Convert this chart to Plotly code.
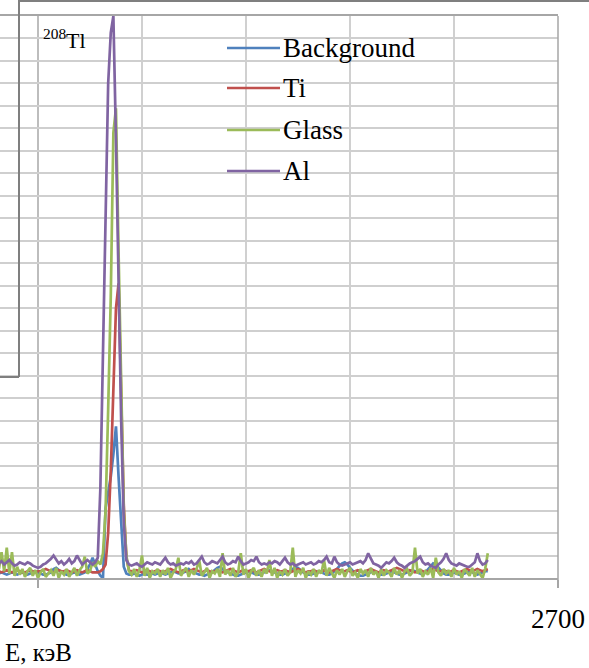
import plotly.graph_objects as go

# Energy channels (keV), 0.5 keV step
E_START = 2592.5
E_STEP = 0.5
N = 189
energy = [E_START + E_STEP * i for i in range(N)]

background = [
    4, 5, 4, 3, 4, 5, 4, 3, 4, 5,
    4, 3, 4, 5, 6, 5, 4, 3, 3, 4,
    5, 8, 9, 7, 5, 4, 3, 3, 4, 5,
    4, 3, 4, 5, 8, 12, 18, 12, 6, 2,
    0, 62, 75, 90, 110, 135, 90, 48, 10, 4,
    3, 3, 4, 3, 2, 3, 4, 3, 3, 4,
    3, 4, 5, 4, 3, 4, 5, 6, 5, 4,
    4, 5, 6, 8, 6, 5, 4, 3, 3, 2,
    3, 4, 5, 7, 9, 10, 8, 6, 5, 4,
    3, 2, 2, 3, 4, 5, 6, 5, 4, 3,
    3, 4, 5, 6, 7, 6, 5, 4, 3, 3,
    4, 5, 6, 8, 10, 9, 7, 5, 4, 3,
    3, 4, 5, 6, 5, 4, 3, 3, 4, 6,
    8, 11, 13, 14, 12, 9, 6, 4, 3, 2,
    2, 3, 4, 5, 6, 5, 4, 3, 3, 4,
    5, 6, 5, 4, 3, 3, 4, 5, 6, 7,
    6, 5, 4, 3, 5, 8, 11, 13, 12, 9,
    6, 4, 3, 3, 4, 5, 4, 3, 3, 4,
    5, 6, 5, 4, 3, 4, 5, 6, 6,
]

ti = [
    6, 5, 6, 7, 6, 5, 6, 7, 6, 5,
    5, 6, 7, 6, 5, 6, 6, 7, 8, 7,
    6, 5, 6, 7, 6, 6, 7, 6, 5, 6,
    7, 6, 5, 6, 7, 6, 5, 5, 5, 6,
    8, 12, 40, 95, 165, 240, 262, 150, 65, 18,
    7, 6, 6, 7, 6, 5, 6, 7, 6, 5,
    6, 7, 6, 5, 6, 7, 8, 7, 6, 5,
    6, 7, 6, 6, 7, 8, 7, 6, 5, 6,
    7, 6, 5, 6, 7, 6, 5, 6, 7, 8,
    7, 6, 5, 6, 7, 6, 6, 7, 6, 5,
    6, 7, 8, 7, 6, 5, 6, 7, 6, 6,
    7, 6, 5, 6, 7, 8, 7, 6, 5, 6,
    6, 7, 6, 5, 6, 7, 6, 5, 6, 7,
    8, 7, 6, 6, 7, 6, 5, 6, 7, 6,
    5, 6, 7, 8, 7, 6, 5, 6, 7, 6,
    6, 7, 8, 9, 8, 7, 6, 6, 7, 6,
    5, 6, 7, 6, 5, 6, 7, 8, 7, 6,
    6, 7, 6, 5, 6, 7, 6, 5, 6, 7,
    8, 7, 6, 7, 8, 7, 6, 7, 8,
]

glass = [
    8, 23, 6, 27, 4, 23, 2, 10, 3, 8,
    1, 6, 9, 2, 7, 0, 5, 8, 1, 4,
    7, 2, 9, 0, 6, 3, 8, 1, 5, 9,
    2, 7, 10, 19, 4, 6, 14, 10, 15, 12,
    22, 60, 150, 250, 396, 418, 290, 160, 60, 20,
    6, 3, 8, 1, 7, 20, 2, 9, 0, 6,
    4, 8, 1, 7, 3, 9, 0, 5, 8, 18,
    2, 6, 9, 1, 7, 3, 8, 16, 2, 5,
    9, 0, 6, 4, 8, 1, 22, 3, 7, 2,
    9, 1, 5, 22, 3, 8, 0, 6, 9, 2,
    7, 1, 8, 4, 16, 2, 9, 0, 6, 3,
    8, 2, 5, 27, 1, 7, 4, 9, 0, 6,
    3, 8, 1, 7, 4, 16, 2, 9, 5, 0,
    7, 3, 8, 1, 6, 9, 2, 5, 0, 8,
    4, 7, 1, 9, 3, 6, 0, 8, 2, 7,
    5, 1, 9, 3, 7, 0, 6, 8, 2, 5,
    27, 4, 8, 1, 6, 3, 9, 0, 18, 5,
    2, 8, 4, 7, 1, 9, 3, 6, 0, 8,
    5, 2, 9, 1, 7, 4, 0, 8, 22,
]

al = [
    13, 15, 12, 14, 16, 13, 11, 12, 14, 13,
    12, 14, 13, 11, 10, 9, 10, 12, 13, 15,
    17, 20, 16, 13, 15, 12, 14, 17, 13, 15,
    20, 16, 12, 14, 16, 14, 12, 14, 18, 80,
    210, 340, 440, 485, 500, 390, 260, 140, 50, 16,
    12, 11, 12, 13, 11, 10, 12, 14, 13, 12,
    14, 13, 12, 15, 18, 14, 12, 13, 11, 12,
    13, 12, 14, 13, 15, 12, 13, 16, 19, 14,
    12, 13, 15, 14, 13, 16, 19, 14, 12, 13,
    15, 14, 19, 15, 12, 13, 14, 16, 15, 19,
    14, 12, 13, 12, 14, 13, 15, 14, 12, 15,
    18, 14, 12, 13, 11, 12, 13, 14, 12, 13,
    14, 12, 13, 15, 14, 16, 19, 14, 13, 19,
    14, 12, 11, 12, 13, 14, 12, 13, 14, 15,
    13, 16, 22, 17, 13, 12, 11, 9, 12, 14,
    13, 15, 18, 14, 12, 11, 9, 11, 13, 14,
    15, 17, 19, 14, 12, 13, 11, 10, 9, 12,
    14, 17, 22, 16, 13, 12, 11, 13, 12, 11,
    10, 10, 12, 14, 22, 15, 12, 13, 16,
]

series_names = ["Background", "Ti", "Glass", "Al"]
series_values = [background, ti, glass, al]
series_colors = ["#4F81BD", "#C0504D", "#9BBB59", "#8064A2"]

x_tick_vals = [2600, 2700]
x_title = "E, кэВ"
peak_label = "<sup>208</sup>Tl"

# ---- layout geometry (pixels) ----
W, H = 589, 668
ML, MR, MT, MB = 0, 31, 16, 90
PW = W - ML - MR
PH = H - MT - MB


def px(xp):
    return (xp - ML) / PW


def py(yp):
    return (H - MB - yp) / PH


SERIF = "Liberation Serif, Times New Roman, serif"

fig = go.Figure()
for name, vals, col in zip(series_names, series_values, series_colors):
    fig.add_trace(go.Scatter(x=energy, y=vals, mode="lines", name=name,
                             line=dict(color=col, width=2.7), showlegend=False))

shapes = []
annotations = []

# outer frame lines (partial chart border)
frame_col = "#7F7F7F"
shapes.append(dict(type="line", xref="paper", yref="paper", x0=px(19), x1=px(589),
                   y0=py(1), y1=py(1), line=dict(color=frame_col, width=2)))
shapes.append(dict(type="line", xref="paper", yref="paper", x0=px(19), x1=px(19),
                   y0=py(0), y1=py(377), line=dict(color=frame_col, width=2)))
shapes.append(dict(type="line", xref="paper", yref="paper", x0=px(0), x1=px(19),
                   y0=py(377), y1=py(377), line=dict(color=frame_col, width=2)))
# right plot border extended as tick
shapes.append(dict(type="line", xref="paper", yref="paper", x0=1, x1=1,
                   y0=1, y1=py(586), line=dict(color="#A6A6A6", width=1.5)))

# manual legend
leg_rows = [48, 88, 130, 171]
for name, col, yr in zip(series_names, series_values and series_colors, leg_rows):
    shapes.append(dict(type="line", xref="paper", yref="paper", x0=px(227), x1=px(280),
                       y0=py(yr), y1=py(yr), line=dict(color=col, width=2.7)))
    annotations.append(dict(xref="paper", yref="paper", x=px(281), y=py(yr),
                            text=name, showarrow=False, xanchor="left", yanchor="middle",
                            font=dict(family=SERIF, size=27, color="black")))

annotations.append(dict(xref="paper", yref="paper", x=px(41), y=py(39),
                        text=peak_label, showarrow=False, xanchor="left", yanchor="middle",
                        font=dict(family=SERIF, size=22, color="black")))
annotations.append(dict(xref="paper", yref="paper", x=px(3), y=py(652),
                        text=x_title, showarrow=False, xanchor="left", yanchor="middle",
                        font=dict(family=SERIF, size=25, color="black")))

fig.update_layout(
    width=W, height=H, autosize=False,
    margin=dict(l=ML, r=MR, t=MT, b=MB, pad=0),
    paper_bgcolor="white", plot_bgcolor="white",
    shapes=shapes, annotations=annotations,
    showlegend=False,
)
fig.update_xaxes(
    range=[2592.7, 2700], tickvals=x_tick_vals,
    ticks="outside", ticklen=8, tickcolor="#A6A6A6", tickwidth=1.5,
    showgrid=True, gridcolor="#BDBDBD", gridwidth=1.5,
    minor=dict(dtick=20, tick0=2600, showgrid=True, gridcolor="#D0D0D0", gridwidth=1.5),
    showline=True, linecolor="#A6A6A6", linewidth=1.5, mirror=True,
    zeroline=False,
    tickfont=dict(family=SERIF, size=27, color="black"),
    ticklabelstandoff=8,
)
fig.update_yaxes(
    range=[0, 500], dtick=20, showticklabels=False, ticks="",
    showgrid=True, gridcolor="#CFCFCF", gridwidth=1.5,
    zeroline=False, showline=False,
)

fig.write_html("out.html",
               config={"displayModeBar": False},
               post_script="document.body.style.margin='0';document.body.style.overflow='hidden';")
